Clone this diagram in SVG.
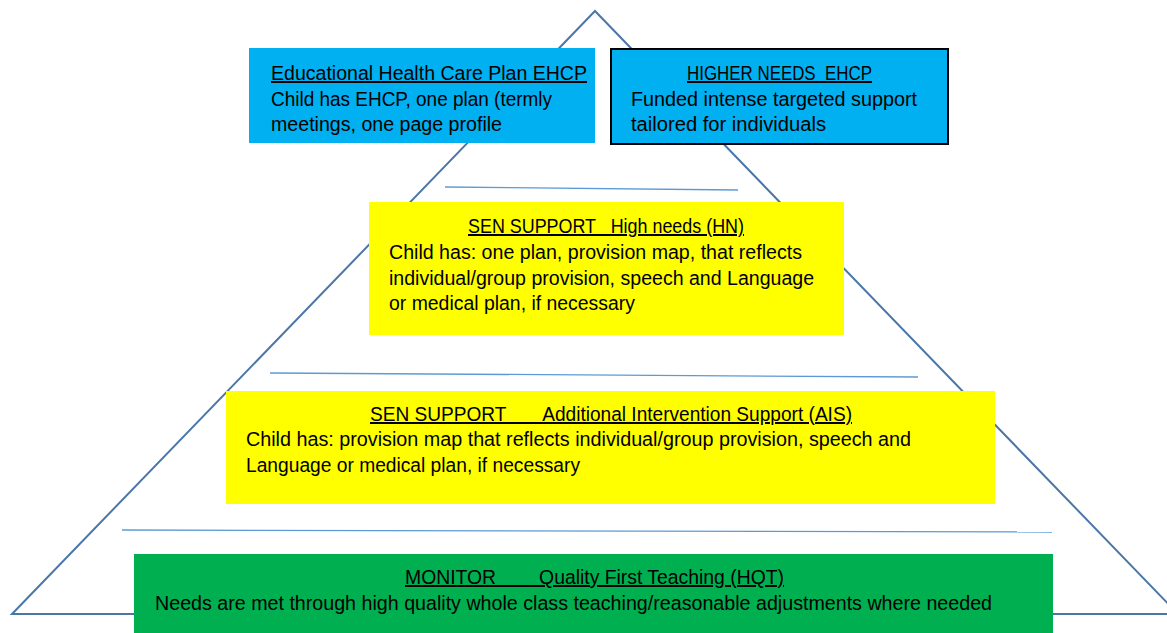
<svg xmlns="http://www.w3.org/2000/svg" width="1167" height="633" viewBox="0 0 1167 633">
<style>
.t{font-family:"Liberation Sans",Arial,sans-serif;font-size:20px;fill:#000}
.u{text-decoration:underline}
.sep{stroke:#5b9bd5;stroke-width:1.3}
.tri{fill:none;stroke:#4a76a8;stroke-width:2}
</style>
<rect width="1167" height="633" fill="#fff"/>
<g id="pyramid">
<path class="tri" d="M12,614 L595,11 L1178,614 Z"/>
</g>
<g id="connectors">
<line class="sep" x1="445" y1="187" x2="738" y2="190"/>
<line class="sep" x1="270" y1="373" x2="918" y2="377"/>
<line class="sep" x1="122" y1="530" x2="1052" y2="532"/>
</g>
<g id="ehcp">
<rect x="249" y="48" width="346" height="95" fill="#00b0f0"/>
<text class="t u" x="271" y="80" textLength="316" lengthAdjust="spacingAndGlyphs">Educational Health Care Plan EHCP</text>
<text class="t" x="271" y="106" textLength="281" lengthAdjust="spacingAndGlyphs">Child has EHCP, one plan (termly</text>
<text class="t" x="271" y="131" textLength="231" lengthAdjust="spacingAndGlyphs">meetings, one page profile</text>
</g>
<g id="higher-needs">
<rect x="611" y="49" width="337" height="95" fill="#00b0f0" stroke="#000" stroke-width="2"/>
<text class="t u" x="687" y="80" textLength="185" lengthAdjust="spacingAndGlyphs" xml:space="preserve">HIGHER NEEDS  EHCP</text>
<text class="t" x="631" y="106" textLength="286" lengthAdjust="spacingAndGlyphs">Funded intense targeted support</text>
<text class="t" x="631" y="131" textLength="195" lengthAdjust="spacingAndGlyphs">tailored for individuals</text>
</g>
<g id="sen-hn">
<rect x="369" y="202" width="475" height="133" fill="#ffff00"/>
<text class="t u" x="468" y="233" textLength="276" lengthAdjust="spacingAndGlyphs" xml:space="preserve">SEN SUPPORT   High needs (HN)</text>
<text class="t" x="389" y="259" textLength="413" lengthAdjust="spacingAndGlyphs">Child has: one plan, provision map, that reflects</text>
<text class="t" x="389" y="285" textLength="425" lengthAdjust="spacingAndGlyphs">individual/group provision, speech and Language</text>
<text class="t" x="389" y="310" textLength="246" lengthAdjust="spacingAndGlyphs">or medical plan, if necessary</text>
</g>
<g id="sen-ais">
<rect x="226" y="391" width="769" height="113" fill="#ffff00"/>
<text class="t u" x="370" y="421" textLength="482" lengthAdjust="spacingAndGlyphs" xml:space="preserve">SEN SUPPORT       Additional Intervention Support (AIS)</text>
<text class="t" x="246" y="446" textLength="665" lengthAdjust="spacingAndGlyphs">Child has: provision map that reflects individual/group provision, speech and</text>
<text class="t" x="246" y="472" textLength="334" lengthAdjust="spacingAndGlyphs">Language or medical plan, if necessary</text>
</g>
<g id="monitor">
<rect x="134" y="554" width="919" height="79" fill="#00b050"/>
<text class="t u" x="405" y="584" textLength="379" lengthAdjust="spacingAndGlyphs" xml:space="preserve">MONITOR        Quality First Teaching (HQT)</text>
<text class="t" x="155" y="610" textLength="837" lengthAdjust="spacingAndGlyphs">Needs are met through high quality whole class teaching/reasonable adjustments where needed</text>
</g>
</svg>
